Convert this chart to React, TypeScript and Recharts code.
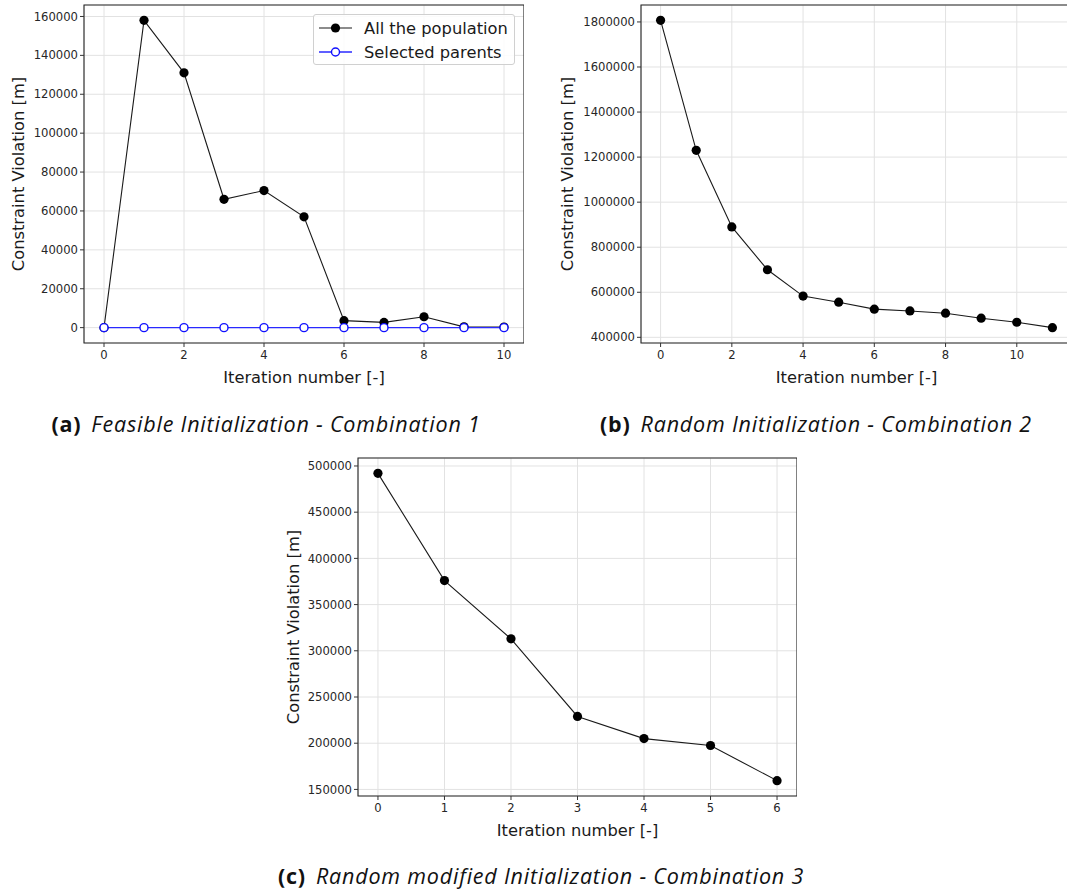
import React from 'react';
import {
  LineChart, Line, XAxis, YAxis, CartesianGrid, ReferenceArea, Legend,
} from 'recharts';

// (a) feasible initialization, combination 1
const ITER_A = [0, 1, 2, 3, 4, 5, 6, 7, 8, 9, 10];
const POPULATION_A = [0, 158000, 131000, 66000, 70500, 57000, 3600, 2700, 5600, 400, 300];
const PARENTS_A = [0, 0, 0, 0, 0, 0, 0, 0, 0, 0, 0];
const X_TICKS_A = [0, 2, 4, 6, 8, 10];
const Y_TICKS_A = [0, 20000, 40000, 60000, 80000, 100000, 120000, 140000, 160000];

// (b) random initialization, combination 2
const ITER_B = [0, 1, 2, 3, 4, 5, 6, 7, 8, 9, 10, 11];
const POPULATION_B = [1807000, 1230000, 890000, 700000, 583000, 556000, 525000, 517000, 507000, 485000, 467000, 443000];
const X_TICKS_B = [0, 2, 4, 6, 8, 10];
const Y_TICKS_B = [400000, 600000, 800000, 1000000, 1200000, 1400000, 1600000, 1800000];

// (c) random modified initialization, combination 3
const ITER_C = [0, 1, 2, 3, 4, 5, 6];
const POPULATION_C = [492000, 376000, 313000, 229000, 205000, 197500, 159500];
const X_TICKS_C = [0, 1, 2, 3, 4, 5, 6];
const Y_TICKS_C = [150000, 200000, 250000, 300000, 350000, 400000, 450000, 500000];

const dataA = ITER_A.map((iter, i) => ({ iter, population: POPULATION_A[i], parents: PARENTS_A[i] }));
const dataB = ITER_B.map((iter, i) => ({ iter, population: POPULATION_B[i] }));
const dataC = ITER_C.map((iter, i) => ({ iter, population: POPULATION_C[i] }));

// matplotlib-style 5% padding around the data range
function padded(values: number[], frac = 0.05): [number, number] {
  const lo = Math.min(...values);
  const hi = Math.max(...values);
  const pad = (hi - lo) * frac;
  return [lo - pad, hi + pad];
}

const TICK = { fontSize: 11.6, fill: '#262626', fontFamily: 'DejaVu Sans' };
const LABEL_FONT = { fontSize: 16.3, fill: '#1a1a1a', fontFamily: 'DejaVu Sans' };

const blackLine = {
  stroke: '#1a1a1a',
  strokeWidth: 1.1,
  dot: { r: 4.6, fill: '#000', stroke: '#000', strokeWidth: 0 },
};
const blueLine = {
  stroke: '#2a2aff',
  strokeWidth: 1.3,
  dot: { r: 4, fill: '#fff', stroke: '#1010ff', strokeWidth: 1.4 },
};

const LEGEND_STYLES: Record<string, typeof blackLine> = {
  population: blackLine,
  parents: blueLine,
};

function PopulationLegend({ payload }: any) {
  return (
    <div
      style={{
        width: 202,
        height: 51,
        border: '1px solid #d0d0d0',
        borderRadius: 3,
        background: 'rgba(255,255,255,0.85)',
        boxSizing: 'border-box',
        paddingTop: 1,
      }}
    >
      {(payload || []).map((entry: any) => {
        const st = LEGEND_STYLES[entry.dataKey] || blackLine;
        return (
          <div key={entry.value} style={{ display: 'flex', alignItems: 'center', height: 24 }}>
            <svg width={46} height={20} style={{ marginLeft: 4 }}>
              <line x1={1} y1={10} x2={34} y2={10} stroke={st.stroke} strokeWidth={st.strokeWidth} />
              <circle cx={17.5} cy={10} r={st.dot.r} fill={st.dot.fill} stroke={st.dot.stroke} strokeWidth={st.dot.strokeWidth} />
            </svg>
            <span style={{ fontFamily: 'DejaVu Sans', fontSize: 16.3, color: '#1a1a1a' }}>{entry.value}</span>
          </div>
        );
      })}
    </div>
  );
}

interface SeriesDef {
  key: string;
  name: string;
  style: typeof blackLine;
}

interface PanelProps {
  left: number;
  top: number;
  width: number;
  axisWidth: number;
  labelOffset: number;
  data: any[];
  xDomain: [number, number];
  xTicks: number[];
  yDomain: [number, number];
  yTicks: number[];
  series: SeriesDef[];
  withLegend?: boolean;
}

function Panel(p: PanelProps) {
  const xLabel = (props: any) => {
    const { x, y, width } = props.viewBox;
    return (
      <text x={x + width / 2} y={y + 34} textAnchor="middle" dominantBaseline="central" {...LABEL_FONT}>
        Iteration number [-]
      </text>
    );
  };
  const yLabel = (props: any) => {
    const { x, y, height } = props.viewBox;
    const cx = x + p.labelOffset;
    const cy = y + height / 2;
    return (
      <text
        x={cx}
        y={cy}
        transform={`rotate(-90, ${cx}, ${cy})`}
        textAnchor="middle"
        dominantBaseline="central"
        {...LABEL_FONT}
      >
        Constraint Violation [m]
      </text>
    );
  };

  return (
    <div style={{ position: 'absolute', left: p.left, top: p.top }}>
      <LineChart width={p.width} height={400} data={p.data} margin={{ top: 5, right: 0, bottom: 0, left: 0 }}>
        <CartesianGrid stroke="#e2e2e2" strokeWidth={1} />
        <XAxis
          type="number"
          dataKey="iter"
          domain={p.xDomain}
          ticks={p.xTicks}
          interval={0}
          height={57}
          tickSize={4}
          tickMargin={4}
          axisLine={false}
          tickLine={{ stroke: '#333' }}
          tick={TICK}
          label={xLabel}
        />
        <YAxis
          type="number"
          domain={p.yDomain}
          ticks={p.yTicks}
          interval={0}
          width={p.axisWidth}
          tickSize={4}
          tickMargin={2}
          axisLine={false}
          tickLine={{ stroke: '#333' }}
          tick={TICK}
          label={yLabel}
        />
        <ReferenceArea
          x1={p.xDomain[0]}
          x2={p.xDomain[1]}
          y1={p.yDomain[0]}
          y2={p.yDomain[1]}
          fill="none"
          fillOpacity={0}
          stroke="#262626"
          strokeWidth={1.1}
        />
        {p.series.map((s) => (
          <Line
            key={s.key}
            type="linear"
            dataKey={s.key}
            name={s.name}
            stroke={s.style.stroke}
            strokeWidth={s.style.strokeWidth}
            dot={s.style.dot}
            activeDot={false}
            isAnimationActive={false}
          />
        ))}
        {p.withLegend && (
          <Legend
            layout="vertical"
            align="center"
            verticalAlign="middle"
            wrapperStyle={{ top: 14, left: 313, width: 204 }}
            content={<PopulationLegend />}
          />
        )}
      </LineChart>
    </div>
  );
}

function Caption({ tag, text, cx, cy }: { tag: string; text: string; cx: number; cy: number }) {
  return (
    <div
      style={{
        position: 'absolute',
        left: cx - 300,
        top: cy - 15,
        width: 600,
        lineHeight: '30px',
        textAlign: 'center',
        fontFamily: '"Open Sans"',
        fontSize: 21.5,
        letterSpacing: 0.8,
        color: '#111',
        whiteSpace: 'nowrap',
      }}
    >
      <span style={{ fontWeight: 700, marginRight: 10 }}>{tag}</span>
      <span style={{ fontStyle: 'italic' }}>{text}</span>
    </div>
  );
}

export default function App() {
  return (
    <div
      style={{
        position: 'absolute',
        left: 0,
        top: 0,
        width: 1067,
        height: 891,
        overflow: 'hidden',
        background: '#fff',
      }}
    >
      <Panel
        left={0}
        top={0}
        width={524}
        axisWidth={84}
        labelOffset={18}
        data={dataA}
        xDomain={padded(ITER_A)}
        xTicks={X_TICKS_A}
        yDomain={padded(POPULATION_A)}
        yTicks={Y_TICKS_A}
        series={[
          { key: 'population', name: 'All the population', style: blackLine },
          { key: 'parents', name: 'Selected parents', style: blueLine },
        ]}
        withLegend
      />
      <Panel
        left={545}
        top={0}
        width={527}
        axisWidth={96}
        labelOffset={22}
        data={dataB}
        xDomain={padded(ITER_B)}
        xTicks={X_TICKS_B}
        yDomain={padded(POPULATION_B)}
        yTicks={Y_TICKS_B}
        series={[{ key: 'population', name: 'All the population', style: blackLine }]}
      />
      <Panel
        left={268}
        top={453}
        width={529}
        axisWidth={90}
        labelOffset={25}
        data={dataC}
        xDomain={padded(ITER_C)}
        xTicks={X_TICKS_C}
        yDomain={padded(POPULATION_C)}
        yTicks={Y_TICKS_C}
        series={[{ key: 'population', name: 'All the population', style: blackLine }]}
      />
      <Caption tag="(a)" text="Feasible Initialization - Combination 1" cx={266} cy={424} />
      <Caption tag="(b)" text="Random Initialization - Combination 2" cx={816} cy={424} />
      <Caption tag="(c)" text="Random modified Initialization - Combination 3" cx={541} cy={876} />
    </div>
  );
}
